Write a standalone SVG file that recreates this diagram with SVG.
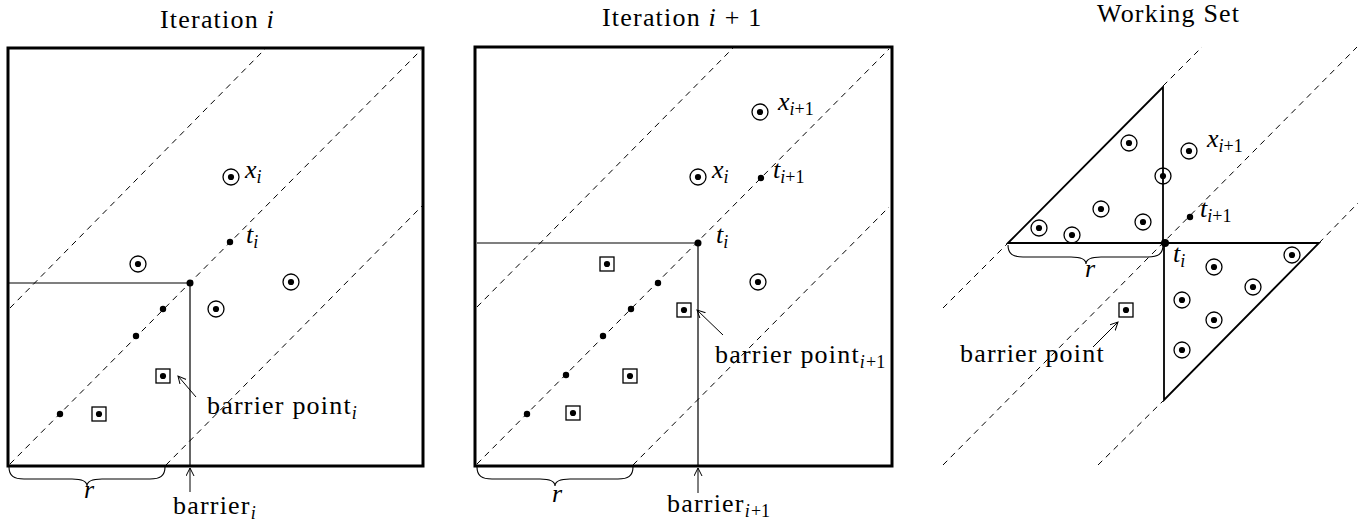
<svg xmlns="http://www.w3.org/2000/svg" xmlns:xlink="http://www.w3.org/1999/xlink" width="1364" height="523" viewBox="0 0 1364 523">
<style>
.box{fill:none;stroke:#000;stroke-width:3}
.dash{fill:none;stroke:#000;stroke-width:1;stroke-dasharray:6 5}
.thin{fill:none;stroke:#000;stroke-width:1.2}
.tri{fill:none;stroke:#000;stroke-width:1.8;stroke-linejoin:miter}
.arrow{fill:none;stroke:#000;stroke-width:1}
.brace{fill:none;stroke:#000;stroke-width:1.1}
text{font-family:"Liberation Serif","Times New Roman",serif;font-size:26px;fill:#000}
.up{letter-spacing:1.2px}
.it{font-style:italic}
.sub{font-size:18px}
</style>
<defs>
<marker id="ah" markerUnits="userSpaceOnUse" markerWidth="10" markerHeight="10" refX="8" refY="4" orient="auto">
<path d="M0,0 L8,4 L0,8" fill="none" stroke="#000" stroke-width="1"/>
</marker>
<g id="cd"><circle r="8" fill="none" stroke="#000" stroke-width="1.3"/><circle r="3.1" fill="#000"/></g>
<g id="sd"><rect x="-7" y="-7" width="14" height="14" fill="none" stroke="#000" stroke-width="1.3"/><circle r="3.1" fill="#000"/></g>
<circle id="d" r="3.2" fill="#000"/>
</defs>

<!-- Panel 1: Iteration i -->
<g id="panel1">
<text x="160" y="28" class="up">Iteration <tspan class="it">i</tspan></text>
<rect class="box" x="8" y="48" width="415" height="418"/>
<g id="p1-lines">
<line class="dash" x1="10" y1="308" x2="265" y2="49"/>
<line class="dash" x1="10" y1="464" x2="421" y2="50"/>
<line class="dash" x1="166" y1="465" x2="422" y2="206"/>
<polyline class="thin" points="9,283 190,283 190,465"/>
<line class="arrow" x1="190" y1="492" x2="190" y2="468" marker-end="url(#ah)"/>
<line class="arrow" x1="196" y1="397" x2="178" y2="376" marker-end="url(#ah)"/>
<path class="brace" d="M9,467 C9,476 14,479 24,479 L72,479 C82,479 87,481 87,486 C87,481 92,479 102,479 L150,479 C160,479 165,476 165,467"/>
</g>
<g id="p1-points">
<use xlink:href="#cd" x="231" y="177"/>
<use xlink:href="#cd" x="138" y="264"/>
<use xlink:href="#cd" x="291" y="282"/>
<use xlink:href="#cd" x="216" y="309"/>
<use xlink:href="#d" x="230" y="242"/>
<circle cx="190" cy="283" r="3.5" fill="#000"/>
<use xlink:href="#d" x="163" y="309"/>
<use xlink:href="#d" x="136" y="336"/>
<use xlink:href="#d" x="60" y="414"/>
<use xlink:href="#sd" x="163" y="376"/>
<use xlink:href="#sd" x="99" y="414"/>
</g>
<g id="p1-labels">
<text x="245" y="178" class="it">x<tspan class="sub" dy="5">i</tspan></text>
<text x="246" y="243" class="it">t<tspan class="sub" dy="5">i</tspan></text>
<text x="207" y="414" class="up">barrier point<tspan class="sub it" dy="5">i</tspan></text>
<text x="173" y="514" class="up">barrier<tspan class="sub it" dy="5">i</tspan></text>
<text x="84" y="498" class="it">r</text>
</g>
</g>

<!-- Panel 2: Iteration i+1 -->
<g id="panel2">
<text x="602" y="26" class="up">Iteration <tspan class="it">i</tspan> + 1</text>
<rect class="box" x="475" y="47" width="417" height="419"/>
<g id="p2-lines">
<line class="dash" x1="477" y1="307" x2="733" y2="48"/>
<line class="dash" x1="477" y1="464" x2="889" y2="49"/>
<line class="dash" x1="633" y1="465" x2="889" y2="207"/>
<polyline class="thin" points="477,243 698,243 698,465"/>
<line class="arrow" x1="698" y1="493" x2="698" y2="468" marker-end="url(#ah)"/>
<line class="arrow" x1="723" y1="335" x2="697" y2="310" marker-end="url(#ah)"/>
<path class="brace" d="M477,467 C477,476 482,479 492,479 L540,479 C550,479 555,481 555,486 C555,481 560,479 570,479 L618,479 C628,479 633,476 633,467"/>
</g>
<g id="p2-points">
<use xlink:href="#cd" x="760" y="112"/>
<use xlink:href="#cd" x="698" y="177"/>
<use xlink:href="#cd" x="758" y="282"/>
<use xlink:href="#d" x="761" y="178"/>
<circle cx="698" cy="243" r="3.5" fill="#000"/>
<use xlink:href="#d" x="658" y="283"/>
<use xlink:href="#d" x="631" y="309"/>
<use xlink:href="#d" x="603" y="336"/>
<use xlink:href="#d" x="566" y="375"/>
<use xlink:href="#d" x="527" y="414"/>
<use xlink:href="#sd" x="607" y="264"/>
<use xlink:href="#sd" x="684" y="310"/>
<use xlink:href="#sd" x="630" y="376"/>
<use xlink:href="#sd" x="573" y="413"/>
</g>
<g id="p2-labels">
<text x="778" y="110" class="it">x<tspan class="sub" dy="5">i</tspan><tspan class="sub" font-style="normal">+1</tspan></text>
<text x="712" y="178" class="it">x<tspan class="sub" dy="5">i</tspan></text>
<text x="773" y="178" class="it">t<tspan class="sub" dy="5">i</tspan><tspan class="sub" font-style="normal">+1</tspan></text>
<text x="716" y="243" class="it">t<tspan class="sub" dy="5">i</tspan></text>
<text x="715" y="363" class="up">barrier point<tspan class="sub it" dy="5">i</tspan><tspan class="sub" letter-spacing="0">+1</tspan></text>
<text x="667" y="512" class="up">barrier<tspan class="sub it" dy="5">i</tspan><tspan class="sub" letter-spacing="0">+1</tspan></text>
<text x="552" y="502" class="it">r</text>
</g>
</g>

<!-- Panel 3: Working Set -->
<g id="panel3">
<text x="1097" y="22" class="up">Working Set</text>
<g id="p3-lines">
<line class="dash" x1="943" y1="308" x2="1008" y2="243"/>
<line class="dash" x1="1163" y1="86" x2="1202" y2="47"/>
<line class="dash" x1="943" y1="465" x2="1357" y2="47"/>
<line class="dash" x1="1098" y1="465" x2="1164" y2="400"/>
<line class="dash" x1="1319" y1="243" x2="1358" y2="203"/>
<polygon class="tri" points="1008,243 1163,87 1163,243"/>
<polygon class="tri" points="1164,243 1319,243 1164,400"/>
<line class="arrow" x1="1093" y1="347" x2="1118" y2="322" marker-end="url(#ah)"/>
<path class="brace" d="M1008,245 C1008,254 1013,257 1023,257 L1071,257 C1081,257 1086,259 1086,264 C1086,259 1091,257 1101,257 L1148,257 C1158,257 1163,254 1163,245"/>
</g>
<g id="p3-points">
<use xlink:href="#cd" x="1129" y="143"/>
<use xlink:href="#cd" x="1163" y="176"/>
<use xlink:href="#cd" x="1101" y="209"/>
<use xlink:href="#cd" x="1143" y="222"/>
<use xlink:href="#cd" x="1039" y="228"/>
<use xlink:href="#cd" x="1072" y="235"/>
<use xlink:href="#cd" x="1189" y="151"/>
<use xlink:href="#cd" x="1292" y="255"/>
<use xlink:href="#cd" x="1214" y="267"/>
<use xlink:href="#cd" x="1253" y="287"/>
<use xlink:href="#cd" x="1182" y="300"/>
<use xlink:href="#cd" x="1214" y="320"/>
<use xlink:href="#cd" x="1182" y="350"/>
<use xlink:href="#d" x="1190" y="217"/>
<circle cx="1165" cy="243" r="4" fill="#000"/>
<use xlink:href="#sd" x="1126" y="310"/>
</g>
<g id="p3-labels">
<text x="1207" y="147" class="it">x<tspan class="sub" dy="5">i</tspan><tspan class="sub" font-style="normal">+1</tspan></text>
<text x="1200" y="217" class="it">t<tspan class="sub" dy="5">i</tspan><tspan class="sub" font-style="normal">+1</tspan></text>
<text x="1173" y="262" class="it">t<tspan class="sub" dy="5">i</tspan></text>
<text x="960" y="362" class="up">barrier point</text>
<text x="1085" y="277" class="it">r</text>
</g>
</g>
</svg>
